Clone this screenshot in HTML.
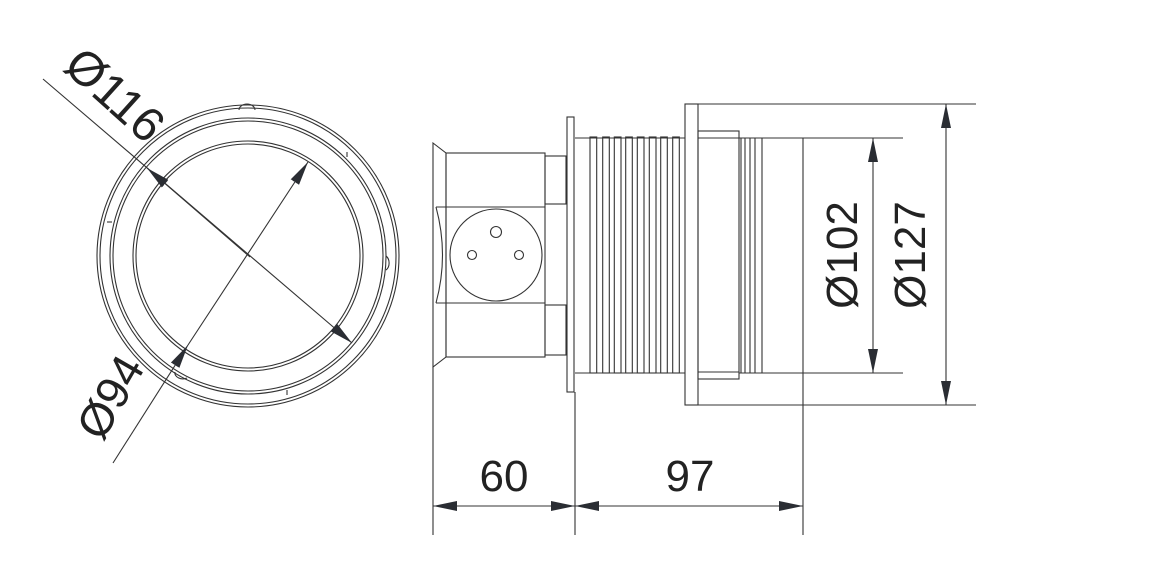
<!DOCTYPE html>
<html><head><meta charset="utf-8"><style>
html,body{margin:0;padding:0;background:#fff;}
svg{display:block;}
text{font-family:"Liberation Sans",sans-serif;fill:#222;}
</style></head><body>
<svg width="1164" height="576" viewBox="0 0 1164 576" xmlns="http://www.w3.org/2000/svg">
<defs>
<marker id="a" viewBox="0 0 24 10" refX="24" refY="5" markerWidth="24" markerHeight="10" markerUnits="userSpaceOnUse" orient="auto-start-reverse">
<path d="M0,0 L24,5 L0,10 Z" fill="#2a2d33"/>
</marker>
</defs>
<g fill="none" stroke="#333" stroke-width="1.1">
<circle cx="248" cy="256" r="151"/>
<circle cx="248" cy="256" r="148"/>
<circle cx="248" cy="256" r="138"/>
<circle cx="248" cy="256" r="135"/>
<circle cx="248" cy="256" r="115"/>
<circle cx="248" cy="256" r="112"/>
<path d="M239,110 a8,6 0 0 1 16,0"/>
<path d="M386,256 a6,8 0 0 1 0,14"/>
<path d="M175,372 a8,6 0 0 0 12,6"/>
<line x1="347" y1="152" x2="347" y2="157"/>
<line x1="112" y1="222" x2="107" y2="222"/>
<line x1="287" y1="390" x2="287" y2="395"/>
<line x1="43" y1="79" x2="352" y2="343" marker-end="url(#a)"/>
<line x1="250" y1="257" x2="147" y2="168" marker-end="url(#a)"/>
<line x1="113" y1="463" x2="188" y2="345" marker-end="url(#a)"/>
<line x1="188" y1="345" x2="308" y2="162" marker-end="url(#a)"/>

<path d="M433,143 L446,153 L446,357 L433,367 Z"/>
<line x1="433" y1="367" x2="433" y2="535"/>
<rect x="446" y="153" width="99" height="204"/>
<line x1="436" y1="207" x2="545" y2="207"/>
<line x1="436" y1="303" x2="545" y2="303"/>
<path d="M436,207 Q449,255 436,303"/>
<rect x="545" y="156" width="21" height="48"/>
<rect x="545" y="305" width="21" height="50"/>
<rect x="567" y="117" width="7" height="275"/>
<line x1="575" y1="392" x2="575" y2="535"/>
<circle cx="496" cy="255" r="46"/>
<circle cx="496" cy="232" r="5.5"/>
<circle cx="472" cy="255" r="4.5"/>
<circle cx="519" cy="255" r="4.5"/>
<line x1="575" y1="138" x2="685" y2="138"/>
<line x1="575" y1="373" x2="685" y2="373"/>
<rect x="590" y="137" width="6.7" height="236"/>
<rect x="602.7" y="137" width="6.6" height="236"/>
<rect x="614.3" y="137" width="6.7" height="236"/>
<rect x="625.7" y="137" width="6.6" height="236"/>
<rect x="637.3" y="137" width="6.7" height="236"/>
<rect x="649.3" y="137" width="6.7" height="236"/>
<rect x="660.7" y="137" width="6.6" height="236"/>
<rect x="672.7" y="137" width="6.6" height="236"/>
<rect x="685" y="104" width="13" height="301"/>
<line x1="698" y1="104" x2="976" y2="104"/>
<line x1="698" y1="405" x2="976" y2="405"/>
<rect x="698" y="131" width="41" height="248"/>
<line x1="698" y1="138" x2="739" y2="138"/>
<line x1="698" y1="372" x2="739" y2="372"/>
<line x1="739" y1="138" x2="903" y2="138"/>
<line x1="739" y1="373" x2="903" y2="373"/>
<line x1="741" y1="138" x2="741" y2="373"/>
<line x1="745" y1="138" x2="745" y2="373"/>
<line x1="750" y1="138" x2="750" y2="373"/>
<line x1="755" y1="138" x2="755" y2="373"/>
<line x1="762" y1="138" x2="762" y2="373"/>
<line x1="803" y1="138" x2="803" y2="535"/>

<line x1="873" y1="255" x2="873" y2="138" marker-end="url(#a)"/>
<line x1="873" y1="255" x2="873" y2="373" marker-end="url(#a)"/>
<line x1="946" y1="255" x2="946" y2="104" marker-end="url(#a)"/>
<line x1="946" y1="255" x2="946" y2="405" marker-end="url(#a)"/>
<line x1="504" y1="506" x2="433" y2="506" marker-end="url(#a)"/>
<line x1="504" y1="506" x2="575" y2="506" marker-end="url(#a)"/>
<line x1="690" y1="506" x2="575" y2="506" marker-end="url(#a)"/>
<line x1="690" y1="506" x2="803" y2="506" marker-end="url(#a)"/>
</g>
<g font-size="44">
<text x="504" y="491" text-anchor="middle">60</text>
<text x="690" y="491" text-anchor="middle">97</text>
<text transform="translate(857,255) rotate(-90)" text-anchor="middle">Ø102</text>
<text transform="translate(925,255) rotate(-90)" text-anchor="middle">Ø127</text>
<text transform="translate(104,107) rotate(42)" text-anchor="middle" font-size="48">Ø116</text>
<text transform="translate(124,405) rotate(-60)" text-anchor="middle" font-size="46">Ø94</text>
</g>
</svg>
</body></html>
